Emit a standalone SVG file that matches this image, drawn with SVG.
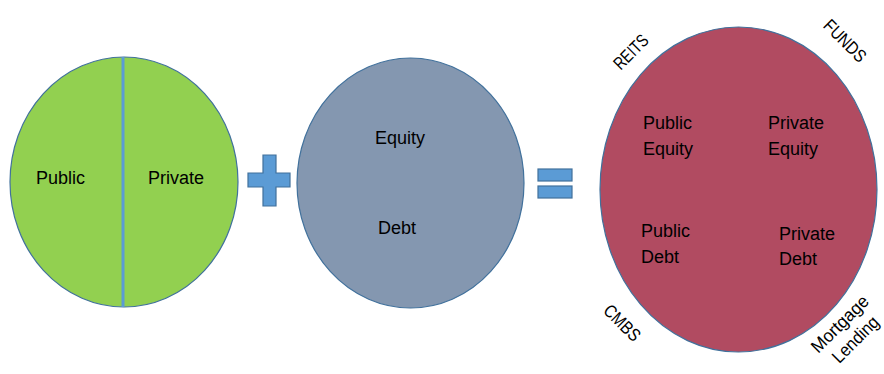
<svg xmlns="http://www.w3.org/2000/svg" width="884" height="374" viewBox="0 0 884 374">
<style>
  text { font-family: "Liberation Sans", Arial, sans-serif; font-size: 18px; fill: #000; }
  .c { text-anchor: middle; }
  .circ { stroke: #41719C; stroke-width: 1.2; }
  .op { fill: #5B9BD5; stroke: #41719C; stroke-width: 1.2; }
</style>
<rect width="884" height="374" fill="#fff"/>

<g id="public-private">
  <ellipse class="circ" cx="124" cy="182" rx="114" ry="125" fill="#92D050"/>
  <line x1="123" y1="57" x2="123" y2="307" stroke="#5B9BD5" stroke-width="3"/>
  <text x="36" y="184">Public</text>
  <text x="148" y="184">Private</text>
</g>

<g id="plus">
  <path class="op" d="M263,155 H276 V173 H290 V187 H276 V206 H263 V187 H248 V173 H263 Z"/>
</g>

<g id="equity-debt">
  <ellipse class="circ" cx="410.5" cy="183" rx="113.5" ry="125" fill="#8497B0"/>
  <text x="375" y="144">Equity</text>
  <text x="378" y="234">Debt</text>
</g>

<g id="equals">
  <rect class="op" x="538" y="169" width="34" height="12"/>
  <rect class="op" x="538" y="186" width="34" height="12"/>
</g>

<g id="result">
  <ellipse class="circ" cx="738.5" cy="189.5" rx="138.5" ry="162.5" fill="#B14B61"/>
  <text x="643" y="129">Public</text>
  <text x="643" y="155">Equity</text>
  <text x="768" y="129">Private</text>
  <text x="768" y="155">Equity</text>
  <text x="641" y="237">Public</text>
  <text x="641" y="263">Debt</text>
  <text x="779" y="240">Private</text>
  <text x="779" y="265">Debt</text>
</g>

<g id="label-reits" transform="translate(631,52) rotate(-45)">
  <text class="c" x="0" y="6" textLength="41" lengthAdjust="spacingAndGlyphs">REITS</text>
</g>
<g id="label-funds" transform="translate(845,41) rotate(45)">
  <text class="c" x="0" y="6" textLength="52" lengthAdjust="spacingAndGlyphs">FUNDS</text>
</g>
<g id="label-cmbs" transform="translate(622,323) rotate(45)">
  <text class="c" x="0" y="6" textLength="44" lengthAdjust="spacingAndGlyphs">CMBS</text>
</g>
<g id="label-mortgage" transform="translate(841,325) rotate(-45)">
  <text class="c" x="0" y="4.5" textLength="73" lengthAdjust="spacingAndGlyphs">Mortgage</text>
  <text class="c" x="0" y="26.5" textLength="58" lengthAdjust="spacingAndGlyphs">Lending</text>
</g>
</svg>
